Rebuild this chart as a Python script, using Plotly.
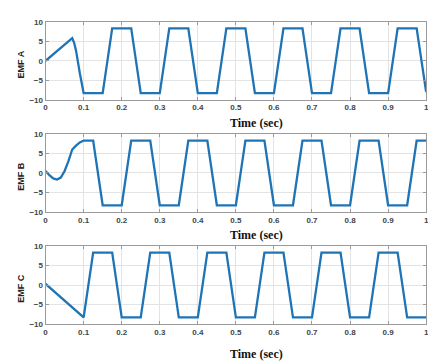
import plotly.graph_objects as go

# ---- data ----
t_a = [0, 0.07, 0.075, 0.08, 0.09, 0.1, 0.15, 0.175, 0.225, 0.25, 0.3, 0.325, 0.375, 0.4, 0.45,
       0.475, 0.525, 0.55, 0.6, 0.625, 0.675, 0.7, 0.75, 0.775, 0.825, 0.85, 0.9, 0.925, 0.975, 1.0]
emf_a = [0, 5.8, 4.6, 2.6, -3.2, -8.3, -8.3, 8.3, 8.3, -8.3, -8.3, 8.3, 8.3, -8.3, -8.3,
         8.3, 8.3, -8.3, -8.3, 8.3, 8.3, -8.3, -8.3, 8.3, 8.3, -8.3, -8.3, 8.3, 8.3, -8.0]

t_b = [0, 0.01, 0.02, 0.03, 0.04, 0.05, 0.06, 0.07, 0.08, 0.09, 0.1, 0.125, 0.15, 0.2, 0.225,
       0.275, 0.3, 0.35, 0.375, 0.425, 0.45, 0.5, 0.525, 0.575, 0.6, 0.65, 0.675, 0.725, 0.75,
       0.8, 0.825, 0.875, 0.9, 0.95, 0.975, 1.0]
emf_b = [0.5, -0.6, -1.4, -1.7, -1.2, 0.5, 3.0, 6.0, 7.0, 7.8, 8.3, 8.3, -8.3, -8.3, 8.3,
         8.3, -8.3, -8.3, 8.3, 8.3, -8.3, -8.3, 8.3, 8.3, -8.3, -8.3, 8.3, 8.3, -8.3,
         -8.3, 8.3, 8.3, -8.3, -8.3, 8.3, 8.3]

t_c = [0, 0.1, 0.125, 0.175, 0.2, 0.25, 0.275, 0.325, 0.35, 0.4, 0.425, 0.475, 0.5, 0.55,
       0.575, 0.625, 0.65, 0.7, 0.725, 0.775, 0.8, 0.85, 0.875, 0.925, 0.95, 1.0]
emf_c = [0.3, -8.3, 8.3, 8.3, -8.3, -8.3, 8.3, 8.3, -8.3, -8.3, 8.3, 8.3, -8.3, -8.3,
         8.3, 8.3, -8.3, -8.3, 8.3, 8.3, -8.3, -8.3, 8.3, 8.3, -8.3, -8.3]

x_ticks = [0, 0.1, 0.2, 0.3, 0.4, 0.5, 0.6, 0.7, 0.8, 0.9, 1]
x_tick_labels = ["0", "0.1", "0.2", "0.3", "0.4", "0.5", "0.6", "0.7", "0.8", "0.9", "1"]
y_ticks = [-10, -5, 0, 5, 10]
y_labels = ["EMF A", "EMF B", "EMF C"]
x_label = "Time (sec)"

W, H = 436, 363
line_color = "#1F74B6"

fig = go.Figure()
series = [(t_a, emf_a), (t_b, emf_b), (t_c, emf_c)]
# panel pixel bounds (top, bottom)
panels = [(10, 90), (125, 205), (240, 320)]
xlabel_y = [114, 229, 351]
x0, x1 = 36, 421
tick_font = dict(family="Liberation Sans, Arial", size=8, color="#444444", weight="bold")

for i, (t, v) in enumerate(series):
    sfx = "" if i == 0 else str(i + 1)
    fig.add_trace(go.Scatter(x=t, y=v, mode="lines", xaxis="x" + sfx, yaxis="y" + sfx,
                             line=dict(color=line_color, width=2.3), showlegend=False,
                             hoverinfo="skip"))
    top, bot = panels[i]
    common = dict(showgrid=True, gridcolor="#E3E3E3", gridwidth=1, zeroline=False,
                  showline=True, linecolor="#9A9A9A", linewidth=1, mirror="ticks",
                  ticks="inside", ticklen=3, tickcolor="#9A9A9A", tickfont=tick_font)
    fig.layout["xaxis" + sfx] = dict(domain=[x0 / W, x1 / W], range=[0, 1],
                                     tickvals=x_ticks, ticktext=x_tick_labels,
                                     anchor="y" + sfx, **common)
    fig.layout["yaxis" + sfx] = dict(domain=[1 - bot / H, 1 - top / H], range=[-10, 10],
                                     tickvals=y_ticks, anchor="x" + sfx, **common)
    fig.add_annotation(text="<b>" + y_labels[i] + "</b>", x=11 / W,
                       y=1 - ((top + bot) / 2 + 4) / H, xref="paper", yref="paper",
                       textangle=-90, showarrow=False, xanchor="center", yanchor="middle",
                       font=dict(family="Liberation Sans, Arial", size=9, color="#222222"))
    fig.add_annotation(text="<b>" + x_label + "</b>", x=249 / W, y=1 - xlabel_y[i] / H,
                       xref="paper", yref="paper", showarrow=False, xanchor="center",
                       yanchor="middle",
                       font=dict(family="Liberation Serif, Times New Roman", size=12,
                                 color="#111111"))

fig.update_layout(width=W, height=H, margin=dict(l=0, r=0, t=0, b=0),
                  paper_bgcolor="white", plot_bgcolor="white")

fig.write_html("out.html")
